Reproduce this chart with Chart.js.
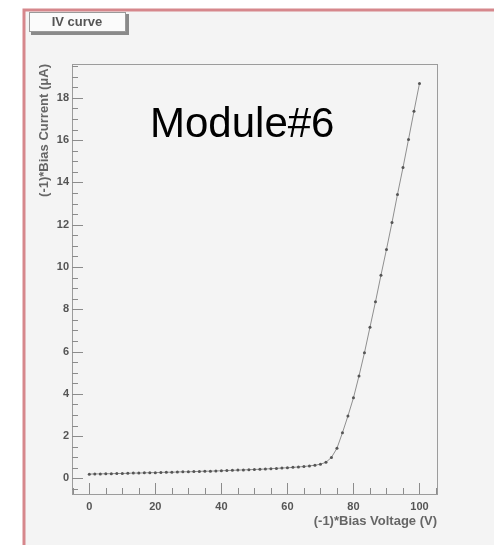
<!DOCTYPE html>
<html>
<head>
<meta charset="utf-8">
<title>IV curve</title>
<script src="https://cdn.jsdelivr.net/npm/chart.js@4/dist/chart.umd.min.js"></script>
<style>
  html, body { margin: 0; padding: 0; background: #fff; }
  canvas { display: block; }
</style>
</head>
<body>
<canvas id="ivChart" width="494" height="545"></canvas>
<script>
// bias voltage (V), one point every 5/3 V
const voltages = [
  0, 1.67, 3.33, 5, 6.67, 8.33, 10, 11.67, 13.33, 15,
  16.67, 18.33, 20, 21.67, 23.33, 25, 26.67, 28.33, 30, 31.67,
  33.33, 35, 36.67, 38.33, 40, 41.67, 43.33, 45, 46.67, 48.33,
  50, 51.67, 53.33, 55, 56.67, 58.33, 60, 61.67, 63.33, 65,
  66.67, 68.33, 70, 71.67, 73.33, 75, 76.67, 78.33, 80, 81.67,
  83.33, 85, 86.67, 88.33, 90, 91.67, 93.33, 95, 96.67, 98.33,
  100
];
// bias current (uA)
const currents = [
  0.20, 0.21, 0.21, 0.22, 0.22, 0.23, 0.23, 0.24, 0.25, 0.25,
  0.26, 0.27, 0.27, 0.28, 0.29, 0.29, 0.30, 0.31, 0.31, 0.32,
  0.33, 0.34, 0.34, 0.35, 0.36, 0.37, 0.38, 0.39, 0.40, 0.41,
  0.42, 0.43, 0.44, 0.46, 0.47, 0.49, 0.50, 0.52, 0.54, 0.56,
  0.59, 0.62, 0.67, 0.76, 0.99, 1.42, 2.16, 2.95, 3.81, 4.84,
  5.94, 7.15, 8.35, 9.61, 10.83, 12.10, 13.43, 14.70, 16.03, 17.37,
  18.68
];
const xTicks = [0, 20, 40, 60, 80, 100];
const yTicks = [0, 2, 4, 6, 8, 10, 12, 14, 16, 18];

const boxTitle = 'IV curve';
const moduleLabel = 'Module#6';

const points = voltages.map((v, i) => ({ x: v, y: currents[i] }));
const FONT = '"Liberation Sans", Arial, sans-serif';

// background, red pad border, title box, frame and tick marks
const rootStyle = {
  id: 'rootStyle',
  beforeDraw(chart) {
    const ctx = chart.ctx;
    ctx.save();
    ctx.fillStyle = '#ffffff';
    ctx.fillRect(0, 0, chart.width, chart.height);
    ctx.fillStyle = '#f4f4f4';
    ctx.fillRect(24, 10, chart.width - 24, chart.height - 10);
    ctx.strokeStyle = '#d6878c';
    ctx.lineWidth = 3;
    ctx.beginPath();
    ctx.moveTo(24, chart.height);
    ctx.lineTo(24, 10);
    ctx.lineTo(chart.width + 2, 10);
    ctx.stroke();

    // title box with shadow
    ctx.fillStyle = '#8a8a8a';
    ctx.fillRect(31, 14, 98, 21);
    ctx.fillStyle = '#fbfbfb';
    ctx.fillRect(29, 12, 97, 20);
    ctx.strokeStyle = '#9a9a9a';
    ctx.lineWidth = 1;
    ctx.strokeRect(29.5, 12.5, 96, 19);
    ctx.fillStyle = '#555';
    ctx.font = 'bold 13px ' + FONT;
    ctx.textAlign = 'center';
    ctx.textBaseline = 'middle';
    ctx.fillText(boxTitle, 77, 22.5);
    ctx.restore();
  },
  afterDraw(chart) {
    const ctx = chart.ctx;
    const a = chart.chartArea;
    const xs = chart.scales.x;
    const ys = chart.scales.y;
    ctx.save();
    ctx.strokeStyle = '#9c9c9c';
    ctx.lineWidth = 1;
    ctx.strokeRect(Math.round(a.left) + 0.5, Math.round(a.top) + 0.5,
      Math.round(a.right - a.left), Math.round(a.bottom - a.top));

    ctx.strokeStyle = '#8c8c8c';
    ctx.beginPath();
    for (let v = -5; v <= 105; v += 5) {
      const px = Math.round(xs.getPixelForValue(v)) + 0.5;
      if (px < a.left || px > a.right) continue;
      const len = v % 20 === 0 ? 11 : 6;
      ctx.moveTo(px, a.bottom);
      ctx.lineTo(px, a.bottom - len);
    }
    for (let k = -1; k <= 39; k++) {
      const v = k * 0.5;
      const py = Math.round(ys.getPixelForValue(v)) + 0.5;
      if (py < a.top || py > a.bottom) continue;
      const len = k % 4 === 0 ? 11 : 6;
      ctx.moveTo(a.left, py);
      ctx.lineTo(a.left + len, py);
    }
    ctx.stroke();

    ctx.fillStyle = '#000';
    ctx.font = '42px ' + FONT;
    ctx.textAlign = 'left';
    ctx.textBaseline = 'alphabetic';
    ctx.fillText(moduleLabel, 150, 137);
    ctx.restore();
  }
};

new Chart(document.getElementById('ivChart'), {
  type: 'scatter',
  data: {
    datasets: [{
      data: points,
      showLine: true,
      borderColor: '#8f8f8f',
      borderWidth: 1,
      pointRadius: 1.5,
      pointBackgroundColor: '#555',
      pointBorderColor: '#555',
      pointBorderWidth: 0,
      tension: 0
    }]
  },
  options: {
    responsive: false,
    devicePixelRatio: 1,
    animation: false,
    layout: { padding: { top: 64, right: 57, left: 0, bottom: 0 } },
    plugins: {
      legend: { display: false },
      tooltip: { enabled: false }
    },
    scales: {
      x: {
        type: 'linear',
        min: -5.24,
        max: 105.3,
        afterFit: s => { s.height = 51; },
        afterBuildTicks: s => { s.ticks = xTicks.map(v => ({ value: v })); },
        grid: { display: false, drawTicks: false },
        border: { display: false },
        ticks: {
          padding: 6,
          color: '#555',
          font: { family: FONT, size: 11, weight: 'bold' },
          maxRotation: 0
        },
        title: {
          display: true,
          text: '(-1)*Bias Voltage (V)',
          align: 'end',
          color: '#666',
          font: { family: FONT, size: 13, weight: 'bold' },
          padding: { top: 0, bottom: 16 }
        }
      },
      y: {
        type: 'linear',
        min: -0.74,
        max: 19.6,
        afterFit: s => { s.width = 72; },
        afterBuildTicks: s => { s.ticks = yTicks.map(v => ({ value: v })); },
        grid: { display: false, drawTicks: false },
        border: { display: false },
        ticks: {
          padding: 3,
          color: '#555',
          font: { family: FONT, size: 11, weight: 'bold' }
        },
        title: {
          display: true,
          text: '(-1)*Bias Current (μA)',
          align: 'end',
          color: '#666',
          font: { family: FONT, size: 13, weight: 'bold' },
          padding: { top: 37, bottom: 0 }
        }
      }
    }
  },
  plugins: [rootStyle]
});
</script>
</body>
</html>
